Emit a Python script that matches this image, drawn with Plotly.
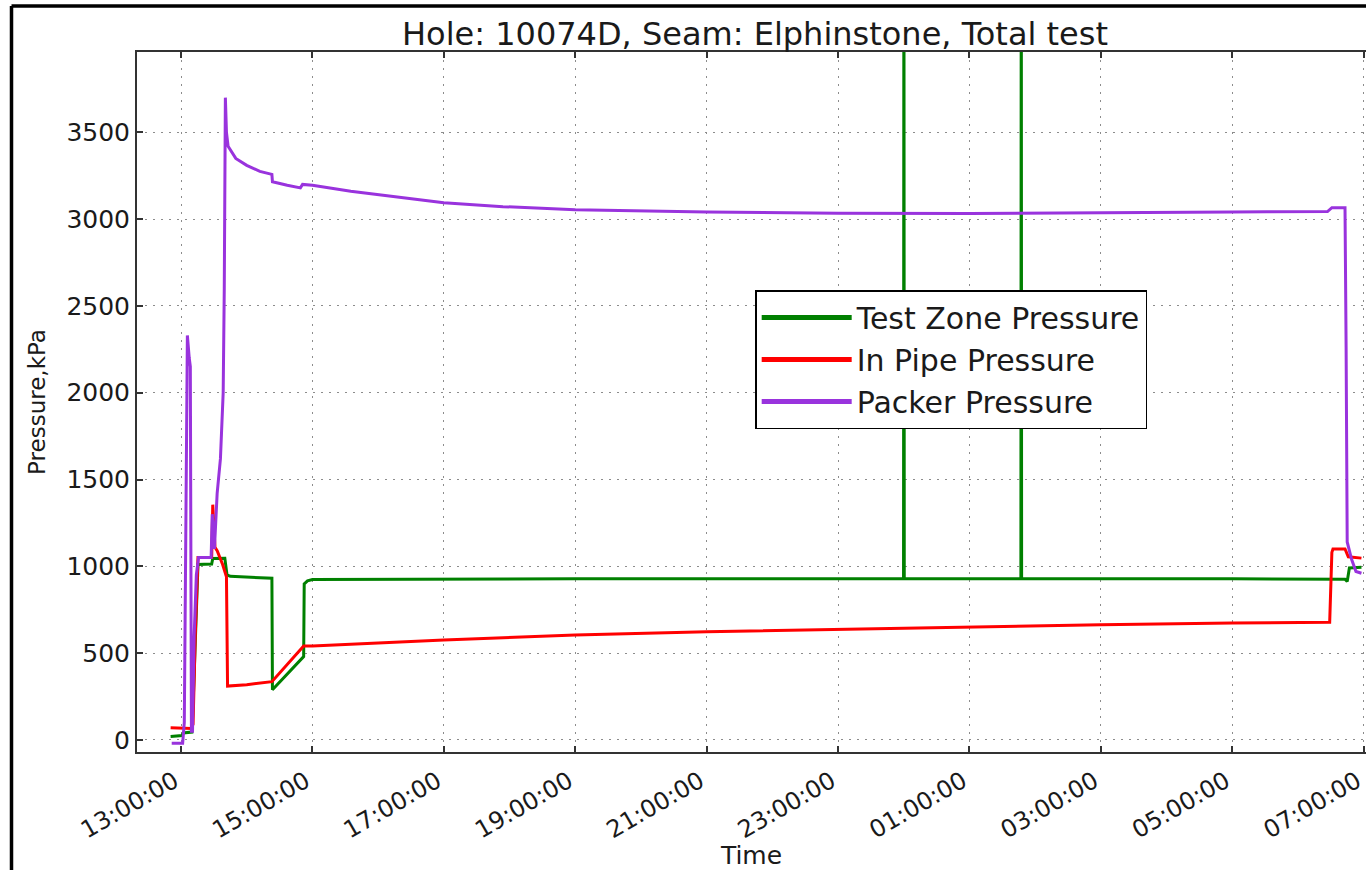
import plotly.graph_objects as go
from datetime import datetime, timedelta

# ---------------- data ----------------
BASE_DAY = "2013-05-14"

packer_times = ["12:51:30", "13:01:30", "13:03:00", "13:05:48", "13:07:30", "13:08:30",
                "13:09:30", "13:10:30", "13:12:00", "13:14:00", "13:16:00", "13:27:30",
                "13:28:30", "13:30:30", "13:33:00", "13:36:00", "13:38:30", "13:39:30",
                "13:40:30", "13:41:30", "13:43:00", "13:50:00", "14:00:00", "14:12:00",
                "14:23:00", "14:23:30", "14:37:00", "14:49:00", "14:51:00", "15:00:00",
                "15:35:00", "16:52:00", "17:00:00", "17:54:00", "19:00:00", "21:00:00",
                "23:00:00", "01:00:00", "03:00:00", "05:00:00", "05:32:00", "06:27:00",
                "06:31:00", "06:43:00", "06:44:00", "06:45:00", "06:49:00", "06:53:00",
                "06:58:00"]
packer_kpa = [-20, -20, 100, 2330, 2200, 2150,
              50, 50, 600, 950, 1050, 1050,
              1300, 1100, 1420, 1620, 2000, 2600,
              3700, 3500, 3420, 3350, 3310, 3275,
              3258, 3215, 3195, 3180, 3200, 3195,
              3161, 3103, 3095, 3072, 3054, 3041,
              3034, 3033, 3035, 3041, 3043, 3044,
              3066, 3066, 2260, 1140, 1040, 970,
              960]

pipe_times = ["12:50:30", "13:09:30", "13:11:00", "13:13:00", "13:15:30", "13:28:00",
              "13:29:00", "13:31:00", "13:33:00", "13:38:00", "13:41:30", "13:42:30",
              "14:00:00", "14:23:00", "14:52:00", "15:00:00", "17:00:00", "19:00:00",
              "21:00:00", "23:00:00", "01:00:00", "03:00:00", "05:00:00", "06:29:00",
              "06:31:00", "06:32:00", "06:43:00", "06:46:00", "06:58:00"]
pipe_kpa = [70, 65, 90, 600, 1050, 1050,
            1355, 1110, 1090, 1010, 940, 310,
            318, 335, 540, 540, 576, 604,
            623, 637, 652, 663, 673, 677,
            1080, 1100, 1100, 1055, 1047]

zone_times = ["12:50:30", "13:01:00", "13:02:00", "13:10:00", "13:11:00", "13:15:30",
              "13:28:00", "13:29:00", "13:40:00", "13:42:00", "13:45:00", "14:03:00",
              "14:23:00", "14:23:30", "14:52:00", "14:52:30", "14:55:30", "15:00:00",
              "17:00:00", "19:00:00", "23:59:50", "00:00:10", "00:00:30", "01:47:00",
              "01:47:20", "01:47:40", "05:00:00", "06:43:00", "06:45:00", "06:47:00",
              "06:58:00"]
zone_kpa = [20, 25, 40, 45, 200, 1010,
            1013, 1045, 1046, 950, 942, 936,
            931, 289, 480, 898, 916, 924,
            928, 928, 928, 5000, 928, 928,
            5000, 928, 928, 926, 912, 990,
            995]

x_range = ["12:19:48", "07:02:10"]
x_tick_labels = ["13:00:00", "15:00:00", "17:00:00", "19:00:00", "21:00:00",
                 "23:00:00", "01:00:00", "03:00:00", "05:00:00", "07:00:00"]
y_range = [-70, 3963]
y_ticks = [0, 500, 1000, 1500, 2000, 2500, 3000, 3500]

series_names = ["Test Zone Pressure", "In Pipe Pressure", "Packer Pressure"]
series_colors = ["#008000", "#ff0000", "#9933dd"]


def to_dt(hms):
    d = datetime.strptime(BASE_DAY + " " + hms, "%Y-%m-%d %H:%M:%S")
    if d.hour < 12:
        d += timedelta(days=1)
    return d


fig = go.Figure()
for name, color, ts, vs in [
    (series_names[0], series_colors[0], zone_times, zone_kpa),
    (series_names[1], series_colors[1], pipe_times, pipe_kpa),
    (series_names[2], series_colors[2], packer_times, packer_kpa),
]:
    fig.add_trace(go.Scatter(x=[to_dt(t) for t in ts], y=vs, mode="lines", name=name,
                             line=dict(color=color, width=3)))

FONT = "DejaVu Sans"
fig.update_layout(
    width=1366, height=870,
    margin=dict(l=137, r=0, t=52, b=118),
    paper_bgcolor="white", plot_bgcolor="white",
    font=dict(family=FONT, color="#1a1a1a", size=24),
    title=dict(text="Hole: 10074D, Seam: Elphinstone, Total test",
               x=(755 / 1366), xanchor="center", y=1 - 34 / 870, yanchor="middle",
               font=dict(family=FONT, size=32, color="#1a1a1a")),
    showlegend=True,
    legend=dict(x=0.503, y=0.66, xanchor="left", yanchor="top",
                bgcolor="white", bordercolor="black", borderwidth=1.5,
                font=dict(family=FONT, size=30, color="#1a1a1a"),
                itemwidth=90, itemsizing="constant"),
)

fig.update_xaxes(
    type="date", automargin=False,
    range=[to_dt(x_range[0]), to_dt(x_range[1])],
    tickvals=[to_dt(t) for t in x_tick_labels],
    ticktext=[t + "\u00a0" for t in x_tick_labels],
    tickangle=-30, ticklabeloverflow="allow",
    tickfont=dict(family=FONT, size=24),
    ticks="inside", ticklen=6, tickwidth=1.5, tickcolor="#333",
    showline=True, linecolor="#333", linewidth=2, mirror="allticks",
    showgrid=True, gridcolor="#8c8c8c", gridwidth=1, griddash="2px,6px",
    zeroline=False,
    title=dict(text="Time", font=dict(family=FONT, size=25), standoff=0),
)
fig.update_yaxes(
    automargin=False,
    range=y_range, tickvals=y_ticks,
    tickfont=dict(family=FONT, size=25),
    ticks="inside", ticklen=6, tickwidth=1.5, tickcolor="#333",
    showline=True, linecolor="#333", linewidth=2, mirror=False,
    showgrid=True, gridcolor="#8c8c8c", gridwidth=1, griddash="2px,6px",
    zeroline=False,
    title=dict(text="Pressure,kPa", font=dict(family=FONT, size=23), standoff=14),
)

# outer picture frame (left and top edges visible in the reference)
pw, ph = 1366 - 137, 870 - 52 - 118
fx = (11.5 - 137) / pw
fy = (752 - 6) / ph
fig.add_shape(type="line", xref="paper", yref="paper", x0=fx, x1=fx, y0=(752 - 880) / ph, y1=fy,
              line=dict(color="black", width=3.5))
fig.add_shape(type="line", xref="paper", yref="paper", x0=fx, x1=1.02, y0=fy, y1=fy,
              line=dict(color="black", width=3.5))

fig.write_html("out.html")
